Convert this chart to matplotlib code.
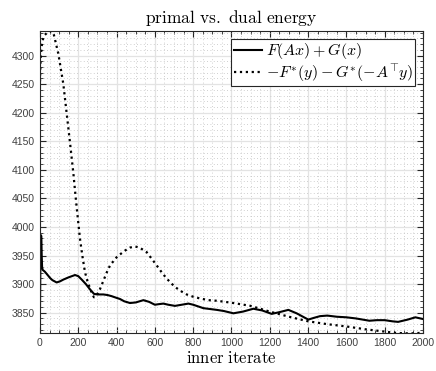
import matplotlib
matplotlib.use("Agg")
import matplotlib.pyplot as plt
from matplotlib.ticker import MultipleLocator

plt.rcParams["mathtext.fontset"] = "cm"
plt.rcParams["font.family"] = ["Liberation Sans", "DejaVu Sans"]

# primal energy F(Ax) + G(x)
primal_x = [0, 2, 4, 7, 9, 11, 14, 25, 35, 45, 52, 65, 87, 105, 122, 150, 183, 200,
            218, 240, 261, 282, 300, 331, 352, 374, 400, 418, 440, 470, 500, 540, 570,
            600, 620, 644, 670, 705, 740, 775, 800, 853, 923, 960, 1010, 1060, 1114,
            1160, 1210, 1250, 1297, 1340, 1401, 1430, 1462, 1500, 1550, 1600, 1650,
            1720, 1760, 1800, 1840, 1870, 1920, 1960, 2000]
primal_y = [3858, 3930, 3986, 3984, 3950, 3930, 3925, 3922, 3918, 3914, 3911, 3907,
            3903, 3905, 3908, 3912, 3916, 3914, 3908, 3900, 3891, 3883, 3882, 3882,
            3881, 3879, 3876, 3874, 3870, 3867, 3868, 3872, 3869, 3864, 3865, 3866,
            3864, 3862, 3864, 3866, 3864, 3858, 3855, 3853, 3849, 3852, 3857, 3854,
            3848, 3851, 3855, 3849, 3838, 3841, 3844, 3845, 3843, 3842, 3840, 3836,
            3837, 3837, 3835, 3834, 3838, 3842, 3839]

# dual energy -F*(y) - G*(-A^T y)
dual_x = [0, 3, 8, 15, 25, 40, 52, 70, 96, 122, 139, 157, 174, 191, 209, 222, 235,
          248, 261, 272, 282, 295, 313, 330, 348, 366, 400, 418, 440, 470, 496, 520,
          557, 580, 609, 635, 661, 690, 714, 740, 766, 800, 836, 880, 923, 1010, 1100,
          1200, 1300, 1375, 1400, 1500, 1600, 1700, 1800, 1850, 1900, 1950, 2000]
dual_y = [4255, 4290, 4315, 4328, 4336, 4341, 4343, 4340, 4303, 4250, 4200, 4147,
          4095, 4036, 3979, 3948, 3921, 3905, 3893, 3883, 3877, 3880, 3891, 3905,
          3920, 3933, 3947, 3952, 3958, 3964, 3966, 3964, 3956, 3946, 3933, 3921,
          3910, 3900, 3893, 3887, 3882, 3878, 3875, 3872, 3871, 3867, 3862, 3852,
          3843, 3837, 3835, 3830, 3826, 3821, 3817, 3815, 3814, 3814, 3815]

fig = plt.figure(figsize=(4.36, 3.71), dpi=100)
ax = fig.add_axes([0.0917, 0.1016, 0.8785, 0.8148])

ax.plot(primal_x, primal_y, "-", color="black", lw=1.5, label=r"$F(Ax)+G(x)$")
ax.plot(dual_x, dual_y, ":", color="black", lw=1.6,
        label=r"$-F^{*}(y)-G^{*}(-A^{\!\top}\!y)$")

ax.set_xlim(0, 2000)
ax.set_ylim(3814, 4343)
ax.xaxis.set_major_locator(MultipleLocator(200))
ax.xaxis.set_minor_locator(MultipleLocator(50))
ax.yaxis.set_major_locator(MultipleLocator(50))
ax.yaxis.set_minor_locator(MultipleLocator(10))

ax.grid(True, which="major", color="#e3e3e3", lw=0.9)
ax.grid(True, which="minor", color="#c0c0c0", lw=0.6, linestyle=(0, (1, 3)))
ax.set_axisbelow(True)

ax.tick_params(which="both", direction="in", top=True, right=True,
               labelsize=7.5, labelcolor="#404040", color="#262626")
ax.tick_params(which="major", length=4, width=0.8)
ax.tick_params(which="minor", length=2, width=0.6)
for s in ax.spines.values():
    s.set_color("#262626")
    s.set_linewidth(0.8)

ax.set_title(r"$\mathrm{primal\ vs.\ dual\ energy}$", fontsize=12.5, pad=6)
ax.set_xlabel(r"$\mathrm{inner\ iterate}$", fontsize=12, labelpad=1)

leg = ax.legend(loc="upper right", fontsize=11.5, fancybox=False, framealpha=1,
                edgecolor="#262626", borderpad=0.15, labelspacing=0.05,
                handlelength=1.8, handletextpad=0.2, borderaxespad=0.5)
leg.get_frame().set_linewidth(0.8)

fig.savefig("out.png", dpi=100)
